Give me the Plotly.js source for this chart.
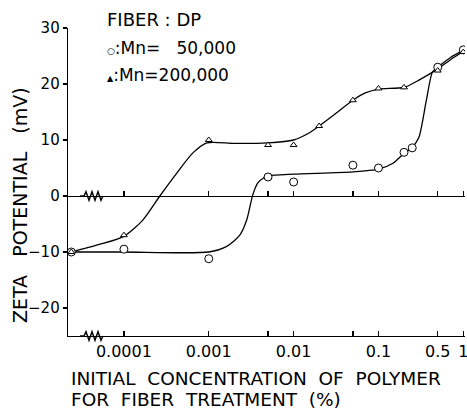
<!DOCTYPE html>
<html>
<head>
<meta charset="utf-8">
<script src="https://cdn.plot.ly/plotly-3.0.1.min.js"></script>
<style>html,body{margin:0;padding:0;background:#fff;}#chart{width:467px;height:410px;}</style>
</head>
<body>
<div id="chart"></div>
<script>
// Position used on the log axis for the untreated control (concentration 0), left of the axis break
var CONTROL_X = 2.4e-5;

// Measured points, Mn = 50,000 (circles)
var circX = [CONTROL_X, 0.0001, 0.001, 0.005, 0.01, 0.05, 0.1, 0.2, 0.25, 0.5, 1];
var circY = [-10, -9.5, -11.2, 3.4, 2.5, 5.5, 5.0, 7.8, 8.6, 23.0, 26.1];

// Measured points, Mn = 200,000 (triangles)
var triX = [CONTROL_X, 0.0001, 0.001, 0.005, 0.01, 0.02, 0.05, 0.1, 0.2, 0.5, 1];
var triY = [-10, -7.0, 10.0, 9.1, 9.1, 12.5, 17.1, 19.2, 19.4, 22.4, 25.7];

// Hand-drawn guide curves
var circCurveX = [CONTROL_X, 0.0001, 0.001, 0.00163, 0.00232, 0.0028, 0.0033, 0.00377, 0.0045, 0.005, 0.01, 0.05, 0.1, 0.15, 0.2, 0.25, 0.3, 0.367, 0.432, 0.5, 0.7, 1];
var circCurveY = [-10, -10, -10, -9.0, -7.0, -4.3, 0.2, 2.3, 3.3, 3.6, 3.9, 4.3, 4.8, 5.9, 7.6, 8.7, 10.5, 17.1, 22.1, 23.0, 24.7, 26.0];

var triCurveX = [CONTROL_X, 0.00005, 0.0001, 0.000167, 0.000265, 0.00042, 0.00065, 0.00095, 0.002, 0.005, 0.01, 0.015, 0.02, 0.03, 0.05, 0.07, 0.1, 0.2, 0.3, 0.5, 0.7, 1];
var triCurveY = [-10, -8.7, -7.2, -4.3, 0, 4.1, 7.7, 9.5, 9.4, 9.5, 10.0, 11.2, 12.5, 14.5, 17.1, 18.4, 19.1, 19.4, 20.7, 22.7, 24.3, 25.8];

// Axis ticks
var xTickVals = [0.0001, 0.001, 0.005, 0.01, 0.05, 0.1, 0.5, 1];
var xTickText = ['0.0001', '0.001', '', '0.01', '', '0.1', '0.5', '1'];
var yTickVals = [30, 20, 10, 0, -10, -20];
var yTickText = ['30', '20', '10', '0', '\u221210', '\u221220'];

var FONT = 'DejaVu Sans, Liberation Sans, Arial, sans-serif';
var X_RANGE = [-4.659, 0.02];
var Y_RANGE = [-25, 30];
var zeroPos = (0 - Y_RANGE[0]) / (Y_RANGE[1] - Y_RANGE[0]);
var SP2 = '\u00a0\u00a0';
var SP3 = '\u00a0\u00a0\u00a0';

var traces = [
  {x: circCurveX, y: circCurveY, mode: 'lines', line: {color: '#000', width: 1.3, shape: 'spline', smoothing: 0.7}, hoverinfo: 'skip', showlegend: false},
  {x: triCurveX, y: triCurveY, mode: 'lines', line: {color: '#000', width: 1.3, shape: 'spline', smoothing: 0.7}, hoverinfo: 'skip', showlegend: false},
  {x: circX, y: circY, mode: 'markers', marker: {symbol: 'circle', size: 8, color: '#fff', line: {color: '#000', width: 1}}, showlegend: false, name: 'Mn=50,000'},
  {x: triX, y: triY, mode: 'markers', marker: {symbol: 'triangle-up', size: 6, color: '#fff', line: {color: '#000', width: 1}}, showlegend: false, name: 'Mn=200,000'},
  // carrier for the zero-line axis
  {x: circX, y: circY, xaxis: 'x2', yaxis: 'y', mode: 'markers', marker: {opacity: 0}, hoverinfo: 'skip', showlegend: false}
];

// axis-break zigzag, in plot-fraction units
function zig(y0) {
  var px = function (v) { return (v - 68) / 397; };
  var a = 0.014;
  var pts = [[84, 0], [86, 1], [89, -1], [92, 1], [95, -1], [98, 1], [101, -1], [103, 0]];
  var p = 'M ' + px(80) + ',' + y0;
  for (var i = 0; i < pts.length; i++) {
    p += ' L ' + px(pts[i][0]) + ',' + (y0 + pts[i][1] * a);
  }
  return p;
}

var layout = {
  width: 467, height: 410,
  margin: {l: 68, r: 2, t: 28, b: 74},
  paper_bgcolor: '#fff', plot_bgcolor: '#fff',
  font: {family: FONT, size: 15, color: '#000'},
  xaxis: {
    type: 'log', range: X_RANGE, showgrid: false, zeroline: false,
    showline: true, linecolor: '#000', linewidth: 1.3,
    ticks: 'inside', ticklen: 5, tickwidth: 1.2, tickcolor: '#000',
    tickvals: xTickVals, ticktext: xTickText, ticklabeloverflow: 'allow',
    tickfont: {family: FONT, size: 16, color: '#000'}
  },
  xaxis2: {
    type: 'log', range: X_RANGE, overlaying: 'x', anchor: 'free', position: zeroPos,
    showgrid: false, zeroline: false, showline: true, linecolor: '#000', linewidth: 1.3,
    ticks: 'inside', ticklen: 5, tickwidth: 1.2, tickcolor: '#000',
    tickvals: xTickVals, showticklabels: false
  },
  yaxis: {
    range: Y_RANGE, showgrid: false, zeroline: false,
    showline: true, linecolor: '#000', linewidth: 1.3,
    ticks: 'outside', ticklen: 4, tickwidth: 1.2, tickcolor: '#000',
    tickvals: yTickVals, ticktext: yTickText,
    tickfont: {family: FONT, size: 15, color: '#000'}
  },
  shapes: [
    {type: 'path', xref: 'paper', yref: 'paper', path: zig(zeroPos), line: {color: '#000', width: 1.4}},
    {type: 'path', xref: 'paper', yref: 'paper', path: zig(0), line: {color: '#000', width: 1.4}}
  ],
  annotations: [
    {xref: 'paper', yref: 'paper', x: -0.121, y: 0.425, text: 'ZETA' + SP3 + 'POTENTIAL' + SP3 + '(mV)', textangle: -90, showarrow: false, font: {family: FONT, size: 19, color: '#000'}, xanchor: 'center', yanchor: 'middle'},
    {xref: 'paper', yref: 'paper', x: 0.003, y: -0.1396, text: 'INITIAL' + SP2 + 'CONCENTRATION' + SP2 + 'OF' + SP2 + 'POLYMER', showarrow: false, font: {family: FONT, size: 18.5, color: '#000'}, xanchor: 'left', yanchor: 'middle'},
    {xref: 'paper', yref: 'paper', x: 0.003, y: -0.207, text: 'FOR' + SP2 + 'FIBER' + SP2 + 'TREATMENT' + SP2 + '(%)', showarrow: false, font: {family: FONT, size: 18.5, color: '#000'}, xanchor: 'left', yanchor: 'middle'},
    {xref: 'paper', yref: 'paper', x: 0.093, y: 1.026, text: 'FIBER : DP', showarrow: false, font: {family: FONT, size: 18, color: '#000'}, xanchor: 'left', yanchor: 'middle'},
    {xref: 'paper', yref: 'paper', x: 0.093, y: 0.935, text: '<span style="font-size:9px">\u25CB</span>:Mn=' + SP3 + '50,000', showarrow: false, font: {family: FONT, size: 17, color: '#000'}, xanchor: 'left', yanchor: 'middle'},
    {xref: 'paper', yref: 'paper', x: 0.093, y: 0.847, text: '<span style="font-size:8px">\u25B2</span>:Mn=200,000', showarrow: false, font: {family: FONT, size: 17, color: '#000'}, xanchor: 'left', yanchor: 'middle'}
  ]
};

Plotly.newPlot('chart', traces, layout, {staticPlot: true, displayModeBar: false});
</script>
</body>
</html>
